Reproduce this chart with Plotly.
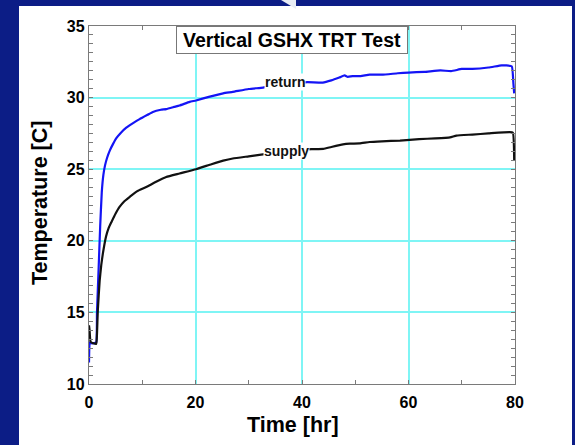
import plotly.graph_objects as go

# ---- data ----
ret_t = [0, 0.15, 0.4, 0.9, 1.35, 1.5, 1.8, 2.1, 2.4, 2.7, 3.0, 3.4, 3.9, 4.5, 5.1, 6.0, 7.0,
         8.2, 9.5, 11, 12, 13.5, 14.5, 16, 17, 18.9, 20.1, 22.5, 25.2, 27, 30, 32.7, 36, 39,
         41, 43.9, 45.5, 47, 48, 48.6, 49.5, 51, 52.7, 55, 58, 60, 63, 66, 68, 70, 72, 75,
         77.5, 78.4, 79.4, 79.7, 79.85]
ret_T = [11.5, 12.9, 12.85, 12.85, 12.9, 15.0, 18.0, 21.0, 23.4, 24.6, 25.25, 25.8, 26.3,
         26.75, 27.15, 27.55, 27.9, 28.2, 28.5, 28.8, 29.0, 29.15, 29.2, 29.35, 29.45, 29.7,
         29.8, 30.05, 30.3, 30.4, 30.6, 30.7, 30.9, 31.0, 31.08, 31.05, 31.2, 31.4, 31.55,
         31.45, 31.5, 31.5, 31.6, 31.6, 31.7, 31.75, 31.8, 31.9, 31.85, 32.0, 32.0, 32.1,
         32.25, 32.25, 32.18, 31.0, 30.3]

sup_t = [0, 0.1, 0.3, 0.8, 1.35, 1.5, 1.65, 2.0, 2.3, 2.6, 3.2, 3.7, 4.2, 5.0, 5.7, 6.6, 7.6,
         9, 10.75, 12.5, 14.5, 17, 20.1, 23, 25.2, 27, 30, 32, 36, 40, 41.8, 44, 45.5, 47.7,
         49, 50.8, 52.7, 55, 58.4, 62, 65, 67.8, 69, 72, 75, 79, 79.6, 79.85]
sup_T = [14.1, 13.8, 12.95, 12.85, 12.8, 13.5, 15.1, 17.2, 18.3, 19.1, 20.3, 20.9, 21.3,
         21.9, 22.35, 22.75, 23.05, 23.45, 23.75, 24.1, 24.45, 24.7, 25.0, 25.35, 25.6,
         25.75, 25.9, 26.0, 26.2, 26.35, 26.4, 26.42, 26.55, 26.73, 26.78, 26.8, 26.9, 26.95,
         27.0, 27.1, 27.15, 27.22, 27.35, 27.42, 27.5, 27.59, 27.55, 25.6]

x_ticks = [0, 20, 40, 60, 80]
y_ticks = [10, 15, 20, 25, 30, 35]

title_text = "Vertical GSHX TRT Test"
x_title = "Time [hr]"
y_title = "Temperature [C]"
labels = [("return", 36.8, 31.12), ("supply", 37.0, 26.3)]

FONT = "Liberation Sans, Arial, Helvetica, sans-serif"

fig = go.Figure()
fig.add_trace(go.Scatter(x=ret_t, y=ret_T, mode="lines",
                         line=dict(color="#1414f5", width=2.2, shape="spline", smoothing=0.4),
                         showlegend=False))
fig.add_trace(go.Scatter(x=sup_t, y=sup_T, mode="lines",
                         line=dict(color="#111111", width=2.2, shape="spline", smoothing=0.4),
                         showlegend=False))

L, R, T, B = 89, 515, 26, 384
W, H = 575, 445
pw, ph = R - L, B - T


def px(x):
    return (x - L) / pw


def py(y):
    return (B - y) / ph


shapes = [
    # white slide panel
    dict(type="rect", xref="paper", yref="paper", x0=px(19), x1=px(572), y0=py(446), y1=py(6),
         fillcolor="white", line=dict(width=0), layer="below"),
    # small white arrow tip at top
    dict(type="path", xref="paper", yref="paper",
         path=f"M {px(281)} {py(0)} L {px(296)} {py(0)} L {px(296)} {py(9)} Z",
         fillcolor="#e8ecf4", line=dict(width=0), layer="below"),
]

annotations = [
    dict(text=f"<b>{title_text}</b>", x=38.2, y=33.99, xref="x", yref="y", showarrow=False,
         xanchor="center", yanchor="middle",
         font=dict(family=FONT, size=19.5, color="black"), bgcolor="white",
         bordercolor="#777777", borderwidth=1, borderpad=2, width=226, height=22),
    dict(text=f"<b>{x_title}</b>", x=px(293), y=py(425), xref="paper", yref="paper",
         xanchor="center", yanchor="middle",
         showarrow=False, font=dict(family=FONT, size=21.5, color="black")),
    dict(text=f"<b>{y_title}</b>", x=px(40), y=py(203), xref="paper", yref="paper",
         xanchor="center", yanchor="middle",
         showarrow=False, textangle=-90, font=dict(family=FONT, size=21.5, color="black")),
]
for txt, lx, ly in labels:
    annotations.append(dict(text=f"<b>{txt}</b>", x=lx, y=ly, xref="x", yref="y",
                            xanchor="center", yanchor="middle",
                            showarrow=False, bgcolor="white", borderpad=0,
                            font=dict(family=FONT, size=14, color="#111111")))

axis_common = dict(showline=True, linecolor="#7a7a7a", linewidth=1.3, mirror="ticks",
                   ticks="inside", ticklen=4, tickcolor="#7a7a7a", tickwidth=1,
                   showgrid=True, gridcolor="#7ff5f5", gridwidth=1.6, zeroline=False,
                   tickfont=dict(family=FONT, size=16, color="black", weight="bold"))

fig.update_layout(
    width=W, height=H,
    margin=dict(l=L, r=W - R, t=T, b=H - B),
    paper_bgcolor="#0c1d86", plot_bgcolor="white",
    xaxis=dict(range=[0, 80], tickvals=x_ticks, ticklabelstandoff=4, **axis_common,
               minor=dict(dtick=10, tick0=0, ticks="inside", ticklen=4,
                          tickcolor="#7a7a7a", showgrid=False)),
    yaxis=dict(range=[10, 35], tickvals=y_ticks, **axis_common,
               minor=dict(dtick=0.625, tick0=10, ticks="inside", ticklen=4,
                          tickcolor="#7a7a7a", showgrid=False)),
    shapes=shapes, annotations=annotations,
)

fig.write_html("out.html")
